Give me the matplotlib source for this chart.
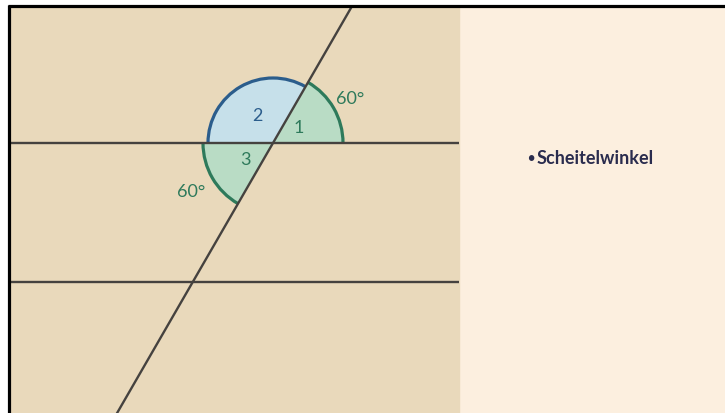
import numpy as np
import matplotlib
matplotlib.use('Agg')
import matplotlib.pyplot as plt
from matplotlib.patches import Rectangle, Wedge, Arc

# Figure is laid out in pixel units (y pointing up)
W, H = 725, 414

# parallel lines (y of each line) and transversal
parallel_y = [270, 131]
center = (273, 270)
transversal_angle = 60  # degrees

# angles at the upper intersection: (theta1, theta2, radius, kind)
angle_wedges = [
    (60, 180, 65, 'blue'),   # angle 2
    (0, 60, 70, 'green'),    # angle 1
    (180, 240, 70, 'green'), # angle 3
]
angle_labels = ['2', '1', '3']
label_pos = [(257, 298), (299, 286), (245, 254)]
degree_labels = ['60°', '60°']
degree_pos = [(350, 315), (191, 222)]
heading = 'Scheitelwinkel'

TAN = '#e9d9bb'
CREAM = '#fcefdf'
LINE = '#45423f'
BLUE_FILL = '#c6e0ea'
BLUE_EDGE = '#2b5d8c'
GREEN_FILL = '#b9dcc5'
GREEN_EDGE = '#2e7a5b'
NAVY = '#2a2c4e'

fig = plt.figure(figsize=(W / 100, H / 100), dpi=100)
ax = fig.add_axes([0, 0, 1, 1])
ax.set_xlim(0, W)
ax.set_ylim(0, H)
ax.axis('off')

# backgrounds
ax.add_patch(Rectangle((0, 0), W, H, color='white', zorder=0))
ax.add_patch(Rectangle((459, 0), W - 459, H - 7, color=CREAM, zorder=1))
tan = Rectangle((10, 0), 449, H - 7, color=TAN, zorder=1)
ax.add_patch(tan)

# black frame (top and left)
ax.plot([8, W], [H - 7, H - 7], color='black', lw=2.3, zorder=6, solid_capstyle='butt')
ax.plot([9.5, 9.5], [0, H - 6], color='black', lw=2.3, zorder=6, solid_capstyle='butt')

# angle fills and arcs
for t1, t2, r, kind in angle_wedges:
    fill = BLUE_FILL if kind == 'blue' else GREEN_FILL
    edge = BLUE_EDGE if kind == 'blue' else GREEN_EDGE
    ax.add_patch(Wedge(center, r, t1, t2, facecolor=fill, edgecolor='none', zorder=2))
    ax.add_patch(Arc(center, 2 * r, 2 * r, theta1=t1, theta2=t2, color=edge, lw=2.3, zorder=3))

# parallel lines
for y in parallel_y:
    ax.plot([10, 459], [y, y], color=LINE, lw=1.7, zorder=4, solid_capstyle='butt')

# transversal through the upper intersection
a = np.radians(transversal_angle)
t = np.array([-400, 400])
tx = center[0] + t * np.cos(a)
ty = center[1] + t * np.sin(a)
tl, = ax.plot(tx, ty, color=LINE, lw=1.7, zorder=4)
tl.set_clip_path(tan)

# labels
font = ['Lato', 'DejaVu Sans']
for lab, (x, y) in zip(angle_labels, label_pos):
    c = BLUE_EDGE if lab == '2' else GREEN_EDGE
    ax.text(x, y, lab, color=c, fontsize=13, ha='center', va='center', family=font, zorder=5)
for lab, (x, y) in zip(degree_labels, degree_pos):
    ax.text(x, y, lab, color=GREEN_EDGE, fontsize=13, ha='center', va='center', family=font, zorder=5)

ax.text(530.5, 256, '•', color=NAVY, fontsize=9, fontweight='bold', ha='center', va='center',
        family=font, zorder=5)
ax.text(537, 256, heading, color=NAVY, fontsize=13, fontweight='bold', ha='left', va='center',
        family=font, zorder=5)

fig.savefig('out.png', dpi=100)
